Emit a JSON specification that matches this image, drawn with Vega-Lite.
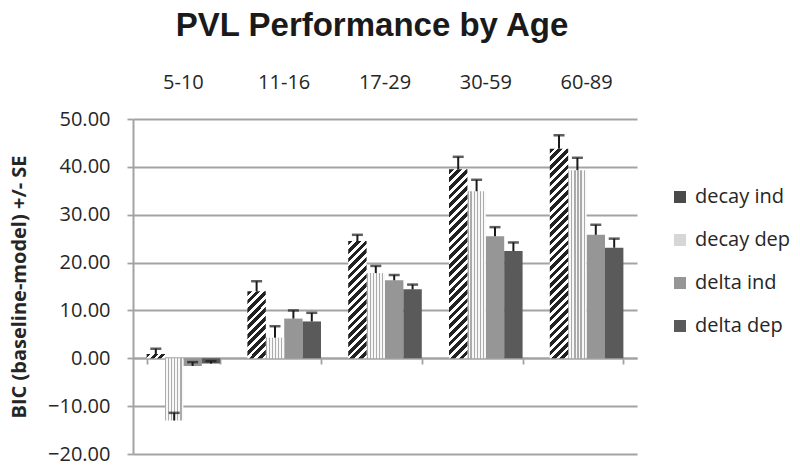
{
  "$schema": "https://vega.github.io/schema/vega-lite/v6.json",
  "width": 504,
  "height": 335,
  "autosize": "none",
  "padding": {"left": 133, "top": 119, "right": 163, "bottom": 17},
  "background": "white",
  "title": {"text": "PVL Performance by Age", "font": "Liberation Sans", "fontSize": 33, "fontWeight": "bold", "color": "#1a1a1a", "anchor": "middle", "frame": "group", "dx": -13, "dy": -15, "offset": 14},
  "config": {"view": {"stroke": null}, "font": "Open Sans"},
  "data": {"values": [
    {"age": "5-10", "series": "decay ind", "value": 0.9, "hi": 2.0},
    {"age": "5-10", "series": "decay dep", "value": -13.0, "hi": -11.4},
    {"age": "5-10", "series": "delta ind", "value": -1.6, "hi": -0.8},
    {"age": "5-10", "series": "delta dep", "value": -1.1, "hi": -0.6},
    {"age": "11-16", "series": "decay ind", "value": 14.0, "hi": 16.1},
    {"age": "11-16", "series": "decay dep", "value": 4.3, "hi": 6.7},
    {"age": "11-16", "series": "delta ind", "value": 8.3, "hi": 10.0},
    {"age": "11-16", "series": "delta dep", "value": 7.7, "hi": 9.5},
    {"age": "17-29", "series": "decay ind", "value": 24.5, "hi": 25.8},
    {"age": "17-29", "series": "decay dep", "value": 17.8, "hi": 19.3},
    {"age": "17-29", "series": "delta ind", "value": 16.3, "hi": 17.4},
    {"age": "17-29", "series": "delta dep", "value": 14.4, "hi": 15.4},
    {"age": "30-59", "series": "decay ind", "value": 39.5, "hi": 42.1},
    {"age": "30-59", "series": "decay dep", "value": 34.9, "hi": 37.3},
    {"age": "30-59", "series": "delta ind", "value": 25.5, "hi": 27.4},
    {"age": "30-59", "series": "delta dep", "value": 22.4, "hi": 24.2},
    {"age": "60-89", "series": "decay ind", "value": 43.8, "hi": 46.6},
    {"age": "60-89", "series": "decay dep", "value": 39.3, "hi": 41.9},
    {"age": "60-89", "series": "delta ind", "value": 25.8, "hi": 27.9},
    {"age": "60-89", "series": "delta dep", "value": 23.1, "hi": 25.0}
  ]},
  "resolve": {"axis": {"x": "independent"}},
  "layer": [
    {
      "transform": [{"filter": "datum.series === 'delta ind' || datum.series === 'delta dep'"}],
      "mark": {"type": "bar"},
      "encoding": {
        "x": {"field": "age", "type": "nominal", "sort": ["5-10", "11-16", "17-29", "30-59", "60-89"], "scale": {"paddingInner": 0.27, "paddingOuter": 0.135},
          "axis": {"orient": "top", "title": null, "domain": false, "ticks": false, "tickSize": 0, "grid": false, "labelAngle": 0, "labelFontSize": 20, "labelColor": "#262626", "labelPadding": 37, "labelBaseline": "middle"}},
        "xOffset": {"field": "series", "type": "nominal", "scale": {"domain": ["decay ind", "decay dep", "delta ind", "delta dep"], "paddingInner": 0, "paddingOuter": 0}},
        "y": {"field": "value", "type": "quantitative", "title": "BIC (baseline-model) +/- SE", "scale": {"domain": [-20, 50], "nice": false},
          "axis": {"values": [-20, -10, 0, 10, 20, 30, 40, 50], "format": ".2f", "grid": true, "gridColor": "#a3a3a3", "gridWidth": 1.8, "domain": true, "domainColor": "#a3a3a3", "domainWidth": 2, "ticks": true, "tickColor": "#a3a3a3", "tickSize": 6, "tickWidth": 1.8, "labelFontSize": 20, "labelColor": "#262626", "labelPadding": 17, "titleFontSize": 20, "titleFontWeight": "bold", "titleColor": "#262626", "titleX": -114, "titleY": 167.5, "titleAngle": -90, "titleAlign": "center", "titleBaseline": "middle"}},
        "color": {"field": "series", "type": "nominal",
          "scale": {"domain": ["decay ind", "decay dep", "delta ind", "delta dep"], "range": ["#4a4a4a", "#d6d6d6", "#969696", "#5a5a5a"]},
          "legend": {"orient": "none", "legendX": 537, "legendY": 68, "title": null, "symbolType": "square", "symbolSize": 144, "symbolStrokeWidth": 0, "labelFont": "Open Sans", "labelFontSize": 20, "labelColor": "#262626", "labelOffset": 5, "rowPadding": 23, "padding": 0}}
      }
    },
    {
      "transform": [{"filter": "datum.series === 'decay dep'"}],
      "mark": {"type": "bar", "fill": {"gradient": "linear", "x1": 0, "y1": 0, "x2": 1, "y2": 0, "stops": [
        {"offset": 0, "color": "#ababab"}, {"offset": 0.0667, "color": "#ababab"}, {"offset": 0.0667, "color": "#f8f8f8"}, {"offset": 0.1667, "color": "#f8f8f8"},
        {"offset": 0.1667, "color": "#ababab"}, {"offset": 0.2333, "color": "#ababab"}, {"offset": 0.2333, "color": "#f8f8f8"}, {"offset": 0.3333, "color": "#f8f8f8"},
        {"offset": 0.3333, "color": "#ababab"}, {"offset": 0.4, "color": "#ababab"}, {"offset": 0.4, "color": "#f8f8f8"}, {"offset": 0.5, "color": "#f8f8f8"},
        {"offset": 0.5, "color": "#ababab"}, {"offset": 0.5667, "color": "#ababab"}, {"offset": 0.5667, "color": "#f8f8f8"}, {"offset": 0.6667, "color": "#f8f8f8"},
        {"offset": 0.6667, "color": "#ababab"}, {"offset": 0.7333, "color": "#ababab"}, {"offset": 0.7333, "color": "#f8f8f8"}, {"offset": 0.8333, "color": "#f8f8f8"},
        {"offset": 0.8333, "color": "#ababab"}, {"offset": 0.9, "color": "#ababab"}, {"offset": 0.9, "color": "#f8f8f8"}, {"offset": 1, "color": "#f8f8f8"}]}},
      "encoding": {
        "x": {"field": "age", "type": "nominal", "sort": ["5-10", "11-16", "17-29", "30-59", "60-89"], "axis": null},
        "xOffset": {"field": "series", "type": "nominal"},
        "y": {"field": "value", "type": "quantitative", "title": "BIC (baseline-model) +/- SE"}
      }
    },
    {
      "transform": [{"filter": "datum.series === 'decay ind' && datum.age === '5-10'"}],
      "mark": {"type": "bar", "fill": {"gradient": "linear", "x1": 0, "y1": 0, "x2": 1.17, "y2": 0.274, "stops": [
        {"offset": 0, "color": "#222"}, {"offset": 0.183, "color": "#222"}, {"offset": 0.183, "color": "#fff"}, {"offset": 0.333, "color": "#fff"},
        {"offset": 0.333, "color": "#222"}, {"offset": 0.517, "color": "#222"}, {"offset": 0.517, "color": "#fff"}, {"offset": 0.667, "color": "#fff"},
        {"offset": 0.667, "color": "#222"}, {"offset": 0.85, "color": "#222"}, {"offset": 0.85, "color": "#fff"}, {"offset": 1, "color": "#fff"}]}},
      "encoding": {
        "x": {"field": "age", "type": "nominal", "sort": ["5-10", "11-16", "17-29", "30-59", "60-89"], "axis": null},
        "xOffset": {"field": "series", "type": "nominal"},
        "y": {"field": "value", "type": "quantitative", "title": "BIC (baseline-model) +/- SE"}
      }
    },
    {
      "transform": [{"filter": "datum.series === 'decay ind' && datum.age === '11-16'"}],
      "mark": {"type": "bar", "fill": {"gradient": "linear", "x1": 0, "y1": 0, "x2": 0.3255, "y2": 1.185, "stops": [
        {"offset": 0, "color": "#222"}, {"offset": 0.055, "color": "#222"}, {"offset": 0.055, "color": "#fff"}, {"offset": 0.1, "color": "#fff"},
        {"offset": 0.1, "color": "#222"}, {"offset": 0.155, "color": "#222"}, {"offset": 0.155, "color": "#fff"}, {"offset": 0.2, "color": "#fff"},
        {"offset": 0.2, "color": "#222"}, {"offset": 0.255, "color": "#222"}, {"offset": 0.255, "color": "#fff"}, {"offset": 0.3, "color": "#fff"},
        {"offset": 0.3, "color": "#222"}, {"offset": 0.355, "color": "#222"}, {"offset": 0.355, "color": "#fff"}, {"offset": 0.4, "color": "#fff"},
        {"offset": 0.4, "color": "#222"}, {"offset": 0.455, "color": "#222"}, {"offset": 0.455, "color": "#fff"}, {"offset": 0.5, "color": "#fff"},
        {"offset": 0.5, "color": "#222"}, {"offset": 0.555, "color": "#222"}, {"offset": 0.555, "color": "#fff"}, {"offset": 0.6, "color": "#fff"},
        {"offset": 0.6, "color": "#222"}, {"offset": 0.655, "color": "#222"}, {"offset": 0.655, "color": "#fff"}, {"offset": 0.7, "color": "#fff"},
        {"offset": 0.7, "color": "#222"}, {"offset": 0.755, "color": "#222"}, {"offset": 0.755, "color": "#fff"}, {"offset": 0.8, "color": "#fff"},
        {"offset": 0.8, "color": "#222"}, {"offset": 0.855, "color": "#222"}, {"offset": 0.855, "color": "#fff"}, {"offset": 0.9, "color": "#fff"},
        {"offset": 0.9, "color": "#222"}, {"offset": 0.955, "color": "#222"}, {"offset": 0.955, "color": "#fff"}, {"offset": 1, "color": "#fff"}]}},
      "encoding": {
        "x": {"field": "age", "type": "nominal", "sort": ["5-10", "11-16", "17-29", "30-59", "60-89"], "axis": null},
        "xOffset": {"field": "series", "type": "nominal"},
        "y": {"field": "value", "type": "quantitative", "title": "BIC (baseline-model) +/- SE"}
      }
    },
    {
      "transform": [{"filter": "datum.series === 'decay ind' && datum.age === '17-29'"}],
      "mark": {"type": "bar", "fill": {"gradient": "linear", "x1": 0, "y1": 0, "x2": 0.1771, "y2": 1.129, "stops": [
        {"offset": 0, "color": "#222"}, {"offset": 0.034, "color": "#222"}, {"offset": 0.034, "color": "#fff"}, {"offset": 0.0625, "color": "#fff"},
        {"offset": 0.0625, "color": "#222"}, {"offset": 0.0965, "color": "#222"}, {"offset": 0.0965, "color": "#fff"}, {"offset": 0.125, "color": "#fff"},
        {"offset": 0.125, "color": "#222"}, {"offset": 0.159, "color": "#222"}, {"offset": 0.159, "color": "#fff"}, {"offset": 0.1875, "color": "#fff"},
        {"offset": 0.1875, "color": "#222"}, {"offset": 0.2215, "color": "#222"}, {"offset": 0.2215, "color": "#fff"}, {"offset": 0.25, "color": "#fff"},
        {"offset": 0.25, "color": "#222"}, {"offset": 0.284, "color": "#222"}, {"offset": 0.284, "color": "#fff"}, {"offset": 0.3125, "color": "#fff"},
        {"offset": 0.3125, "color": "#222"}, {"offset": 0.3465, "color": "#222"}, {"offset": 0.3465, "color": "#fff"}, {"offset": 0.375, "color": "#fff"},
        {"offset": 0.375, "color": "#222"}, {"offset": 0.409, "color": "#222"}, {"offset": 0.409, "color": "#fff"}, {"offset": 0.4375, "color": "#fff"},
        {"offset": 0.4375, "color": "#222"}, {"offset": 0.4715, "color": "#222"}, {"offset": 0.4715, "color": "#fff"}, {"offset": 0.5, "color": "#fff"},
        {"offset": 0.5, "color": "#222"}, {"offset": 0.534, "color": "#222"}, {"offset": 0.534, "color": "#fff"}, {"offset": 0.5625, "color": "#fff"},
        {"offset": 0.5625, "color": "#222"}, {"offset": 0.5965, "color": "#222"}, {"offset": 0.5965, "color": "#fff"}, {"offset": 0.625, "color": "#fff"},
        {"offset": 0.625, "color": "#222"}, {"offset": 0.659, "color": "#222"}, {"offset": 0.659, "color": "#fff"}, {"offset": 0.6875, "color": "#fff"},
        {"offset": 0.6875, "color": "#222"}, {"offset": 0.7215, "color": "#222"}, {"offset": 0.7215, "color": "#fff"}, {"offset": 0.75, "color": "#fff"},
        {"offset": 0.75, "color": "#222"}, {"offset": 0.784, "color": "#222"}, {"offset": 0.784, "color": "#fff"}, {"offset": 0.8125, "color": "#fff"},
        {"offset": 0.8125, "color": "#222"}, {"offset": 0.8465, "color": "#222"}, {"offset": 0.8465, "color": "#fff"}, {"offset": 0.875, "color": "#fff"},
        {"offset": 0.875, "color": "#222"}, {"offset": 0.909, "color": "#222"}, {"offset": 0.909, "color": "#fff"}, {"offset": 0.9375, "color": "#fff"},
        {"offset": 0.9375, "color": "#222"}, {"offset": 0.9715, "color": "#222"}, {"offset": 0.9715, "color": "#fff"}, {"offset": 1, "color": "#fff"}]}},
      "encoding": {
        "x": {"field": "age", "type": "nominal", "sort": ["5-10", "11-16", "17-29", "30-59", "60-89"], "axis": null},
        "xOffset": {"field": "series", "type": "nominal"},
        "y": {"field": "value", "type": "quantitative", "title": "BIC (baseline-model) +/- SE"}
      }
    },
    {
      "transform": [{"filter": "datum.series === 'decay ind' && datum.age === '30-59'"}],
      "mark": {"type": "bar", "fill": {"gradient": "linear", "x1": 0, "y1": 0, "x2": 0.1058, "y2": 1.087, "stops": [
        {"offset": 0, "color": "#222"}, {"offset": 0.0229, "color": "#222"}, {"offset": 0.0229, "color": "#fff"}, {"offset": 0.0417, "color": "#fff"},
        {"offset": 0.0417, "color": "#222"}, {"offset": 0.0646, "color": "#222"}, {"offset": 0.0646, "color": "#fff"}, {"offset": 0.0833, "color": "#fff"},
        {"offset": 0.0833, "color": "#222"}, {"offset": 0.1062, "color": "#222"}, {"offset": 0.1062, "color": "#fff"}, {"offset": 0.125, "color": "#fff"},
        {"offset": 0.125, "color": "#222"}, {"offset": 0.1479, "color": "#222"}, {"offset": 0.1479, "color": "#fff"}, {"offset": 0.1667, "color": "#fff"},
        {"offset": 0.1667, "color": "#222"}, {"offset": 0.1896, "color": "#222"}, {"offset": 0.1896, "color": "#fff"}, {"offset": 0.2083, "color": "#fff"},
        {"offset": 0.2083, "color": "#222"}, {"offset": 0.2312, "color": "#222"}, {"offset": 0.2312, "color": "#fff"}, {"offset": 0.25, "color": "#fff"},
        {"offset": 0.25, "color": "#222"}, {"offset": 0.2729, "color": "#222"}, {"offset": 0.2729, "color": "#fff"}, {"offset": 0.2917, "color": "#fff"},
        {"offset": 0.2917, "color": "#222"}, {"offset": 0.3146, "color": "#222"}, {"offset": 0.3146, "color": "#fff"}, {"offset": 0.3333, "color": "#fff"},
        {"offset": 0.3333, "color": "#222"}, {"offset": 0.3562, "color": "#222"}, {"offset": 0.3562, "color": "#fff"}, {"offset": 0.375, "color": "#fff"},
        {"offset": 0.375, "color": "#222"}, {"offset": 0.3979, "color": "#222"}, {"offset": 0.3979, "color": "#fff"}, {"offset": 0.4167, "color": "#fff"},
        {"offset": 0.4167, "color": "#222"}, {"offset": 0.4396, "color": "#222"}, {"offset": 0.4396, "color": "#fff"}, {"offset": 0.4583, "color": "#fff"},
        {"offset": 0.4583, "color": "#222"}, {"offset": 0.4812, "color": "#222"}, {"offset": 0.4812, "color": "#fff"}, {"offset": 0.5, "color": "#fff"},
        {"offset": 0.5, "color": "#222"}, {"offset": 0.5229, "color": "#222"}, {"offset": 0.5229, "color": "#fff"}, {"offset": 0.5417, "color": "#fff"},
        {"offset": 0.5417, "color": "#222"}, {"offset": 0.5646, "color": "#222"}, {"offset": 0.5646, "color": "#fff"}, {"offset": 0.5833, "color": "#fff"},
        {"offset": 0.5833, "color": "#222"}, {"offset": 0.6062, "color": "#222"}, {"offset": 0.6062, "color": "#fff"}, {"offset": 0.625, "color": "#fff"},
        {"offset": 0.625, "color": "#222"}, {"offset": 0.6479, "color": "#222"}, {"offset": 0.6479, "color": "#fff"}, {"offset": 0.6667, "color": "#fff"},
        {"offset": 0.6667, "color": "#222"}, {"offset": 0.6896, "color": "#222"}, {"offset": 0.6896, "color": "#fff"}, {"offset": 0.7083, "color": "#fff"},
        {"offset": 0.7083, "color": "#222"}, {"offset": 0.7312, "color": "#222"}, {"offset": 0.7312, "color": "#fff"}, {"offset": 0.75, "color": "#fff"},
        {"offset": 0.75, "color": "#222"}, {"offset": 0.7729, "color": "#222"}, {"offset": 0.7729, "color": "#fff"}, {"offset": 0.7917, "color": "#fff"},
        {"offset": 0.7917, "color": "#222"}, {"offset": 0.8146, "color": "#222"}, {"offset": 0.8146, "color": "#fff"}, {"offset": 0.8333, "color": "#fff"},
        {"offset": 0.8333, "color": "#222"}, {"offset": 0.8562, "color": "#222"}, {"offset": 0.8562, "color": "#fff"}, {"offset": 0.875, "color": "#fff"},
        {"offset": 0.875, "color": "#222"}, {"offset": 0.8979, "color": "#222"}, {"offset": 0.8979, "color": "#fff"}, {"offset": 0.9167, "color": "#fff"},
        {"offset": 0.9167, "color": "#222"}, {"offset": 0.9396, "color": "#222"}, {"offset": 0.9396, "color": "#fff"}, {"offset": 0.9583, "color": "#fff"},
        {"offset": 0.9583, "color": "#222"}, {"offset": 0.9812, "color": "#222"}, {"offset": 0.9812, "color": "#fff"}, {"offset": 1, "color": "#fff"}]}},
      "encoding": {
        "x": {"field": "age", "type": "nominal", "sort": ["5-10", "11-16", "17-29", "30-59", "60-89"], "axis": null},
        "xOffset": {"field": "series", "type": "nominal"},
        "y": {"field": "value", "type": "quantitative", "title": "BIC (baseline-model) +/- SE"}
      }
    },
    {
      "transform": [{"filter": "datum.series === 'decay ind' && datum.age === '60-89'"}],
      "mark": {"type": "bar", "fill": {"gradient": "linear", "x1": 0, "y1": 0, "x2": 0.0947, "y2": 1.079, "stops": [
        {"offset": 0, "color": "#222"}, {"offset": 0.0204, "color": "#222"}, {"offset": 0.0204, "color": "#fff"}, {"offset": 0.037, "color": "#fff"},
        {"offset": 0.037, "color": "#222"}, {"offset": 0.0574, "color": "#222"}, {"offset": 0.0574, "color": "#fff"}, {"offset": 0.0741, "color": "#fff"},
        {"offset": 0.0741, "color": "#222"}, {"offset": 0.0945, "color": "#222"}, {"offset": 0.0945, "color": "#fff"}, {"offset": 0.1111, "color": "#fff"},
        {"offset": 0.1111, "color": "#222"}, {"offset": 0.1315, "color": "#222"}, {"offset": 0.1315, "color": "#fff"}, {"offset": 0.1481, "color": "#fff"},
        {"offset": 0.1481, "color": "#222"}, {"offset": 0.1685, "color": "#222"}, {"offset": 0.1685, "color": "#fff"}, {"offset": 0.1852, "color": "#fff"},
        {"offset": 0.1852, "color": "#222"}, {"offset": 0.2056, "color": "#222"}, {"offset": 0.2056, "color": "#fff"}, {"offset": 0.2222, "color": "#fff"},
        {"offset": 0.2222, "color": "#222"}, {"offset": 0.2426, "color": "#222"}, {"offset": 0.2426, "color": "#fff"}, {"offset": 0.2593, "color": "#fff"},
        {"offset": 0.2593, "color": "#222"}, {"offset": 0.2797, "color": "#222"}, {"offset": 0.2797, "color": "#fff"}, {"offset": 0.2963, "color": "#fff"},
        {"offset": 0.2963, "color": "#222"}, {"offset": 0.3167, "color": "#222"}, {"offset": 0.3167, "color": "#fff"}, {"offset": 0.3333, "color": "#fff"},
        {"offset": 0.3333, "color": "#222"}, {"offset": 0.3537, "color": "#222"}, {"offset": 0.3537, "color": "#fff"}, {"offset": 0.3704, "color": "#fff"},
        {"offset": 0.3704, "color": "#222"}, {"offset": 0.3908, "color": "#222"}, {"offset": 0.3908, "color": "#fff"}, {"offset": 0.4074, "color": "#fff"},
        {"offset": 0.4074, "color": "#222"}, {"offset": 0.4278, "color": "#222"}, {"offset": 0.4278, "color": "#fff"}, {"offset": 0.4444, "color": "#fff"},
        {"offset": 0.4444, "color": "#222"}, {"offset": 0.4648, "color": "#222"}, {"offset": 0.4648, "color": "#fff"}, {"offset": 0.4815, "color": "#fff"},
        {"offset": 0.4815, "color": "#222"}, {"offset": 0.5019, "color": "#222"}, {"offset": 0.5019, "color": "#fff"}, {"offset": 0.5185, "color": "#fff"},
        {"offset": 0.5185, "color": "#222"}, {"offset": 0.5389, "color": "#222"}, {"offset": 0.5389, "color": "#fff"}, {"offset": 0.5556, "color": "#fff"},
        {"offset": 0.5556, "color": "#222"}, {"offset": 0.576, "color": "#222"}, {"offset": 0.576, "color": "#fff"}, {"offset": 0.5926, "color": "#fff"},
        {"offset": 0.5926, "color": "#222"}, {"offset": 0.613, "color": "#222"}, {"offset": 0.613, "color": "#fff"}, {"offset": 0.6296, "color": "#fff"},
        {"offset": 0.6296, "color": "#222"}, {"offset": 0.65, "color": "#222"}, {"offset": 0.65, "color": "#fff"}, {"offset": 0.6667, "color": "#fff"},
        {"offset": 0.6667, "color": "#222"}, {"offset": 0.6871, "color": "#222"}, {"offset": 0.6871, "color": "#fff"}, {"offset": 0.7037, "color": "#fff"},
        {"offset": 0.7037, "color": "#222"}, {"offset": 0.7241, "color": "#222"}, {"offset": 0.7241, "color": "#fff"}, {"offset": 0.7407, "color": "#fff"},
        {"offset": 0.7407, "color": "#222"}, {"offset": 0.7611, "color": "#222"}, {"offset": 0.7611, "color": "#fff"}, {"offset": 0.7778, "color": "#fff"},
        {"offset": 0.7778, "color": "#222"}, {"offset": 0.7982, "color": "#222"}, {"offset": 0.7982, "color": "#fff"}, {"offset": 0.8148, "color": "#fff"},
        {"offset": 0.8148, "color": "#222"}, {"offset": 0.8352, "color": "#222"}, {"offset": 0.8352, "color": "#fff"}, {"offset": 0.8519, "color": "#fff"},
        {"offset": 0.8519, "color": "#222"}, {"offset": 0.8723, "color": "#222"}, {"offset": 0.8723, "color": "#fff"}, {"offset": 0.8889, "color": "#fff"},
        {"offset": 0.8889, "color": "#222"}, {"offset": 0.9093, "color": "#222"}, {"offset": 0.9093, "color": "#fff"}, {"offset": 0.9259, "color": "#fff"},
        {"offset": 0.9259, "color": "#222"}, {"offset": 0.9463, "color": "#222"}, {"offset": 0.9463, "color": "#fff"}, {"offset": 0.963, "color": "#fff"},
        {"offset": 0.963, "color": "#222"}, {"offset": 0.9834, "color": "#222"}, {"offset": 0.9834, "color": "#fff"}, {"offset": 1, "color": "#fff"}]}},
      "encoding": {
        "x": {"field": "age", "type": "nominal", "sort": ["5-10", "11-16", "17-29", "30-59", "60-89"], "axis": null},
        "xOffset": {"field": "series", "type": "nominal"},
        "y": {"field": "value", "type": "quantitative", "title": "BIC (baseline-model) +/- SE"}
      }
    },
    {
      "mark": {"type": "rule", "color": "#1a1a1a", "strokeWidth": 2},
      "encoding": {
        "x": {"field": "age", "type": "nominal", "sort": ["5-10", "11-16", "17-29", "30-59", "60-89"],
          "axis": {"orient": "bottom", "offset": -96, "title": null, "labels": false, "grid": false, "domain": true, "domainColor": "#a3a3a3", "domainWidth": 2, "ticks": true, "tickBand": "extent", "tickColor": "#a3a3a3", "tickWidth": 1.8, "tickSize": 6}},
        "xOffset": {"field": "series", "type": "nominal"},
        "y": {"field": "value", "type": "quantitative", "title": "BIC (baseline-model) +/- SE"},
        "y2": {"field": "hi"}
      }
    },
    {
      "mark": {"type": "tick", "color": "#1a1a1a", "thickness": 2.5},
      "encoding": {
        "x": {"field": "age", "type": "nominal", "sort": ["5-10", "11-16", "17-29", "30-59", "60-89"], "axis": null},
        "xOffset": {"field": "series", "type": "nominal"},
        "y": {"field": "hi", "type": "quantitative", "title": "BIC (baseline-model) +/- SE"},
        "size": {"value": 11}
      }
    }
  ]
}
